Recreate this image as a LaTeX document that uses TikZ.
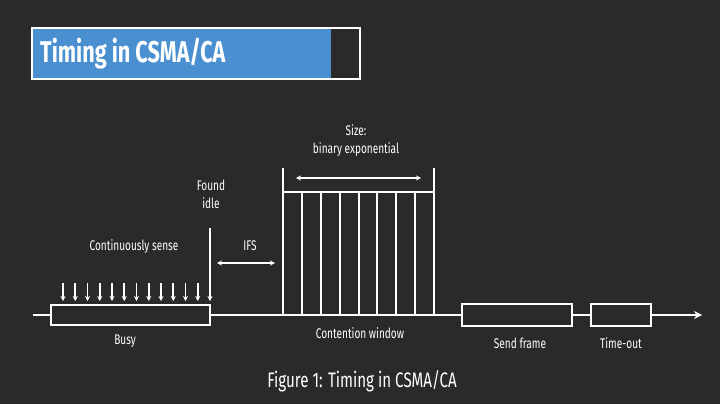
\documentclass[tikz,border=0pt]{standalone}
\usepackage{fontspec}
\setmainfont{Fira Sans}[FakeStretch=0.72]
\usetikzlibrary{arrows.meta}
\definecolor{bgdark}{HTML}{2B2A2A}
\definecolor{titleblue}{HTML}{4A90D0}

\begin{document}
\begin{tikzpicture}[
  x=1pt, y=-1pt,
  wire/.style={draw=white, line width=2pt},
  slot/.style={draw=white, line width=2pt, fill=bgdark},
  lbl/.style={text=white, font=\fontsize{14}{16}\selectfont, inner sep=0pt},
  sense/.style={draw=white, line width=1.6pt, -{Stealth[length=5pt,width=5pt]}},
  span/.style={draw=white, line width=1.2pt, {Stealth[length=5pt,width=5pt]}-{Stealth[length=5pt,width=5pt]}},
]

\fill [bgdark] (0,0) rectangle (720,404);
\useasboundingbox (0,0) rectangle (720,404);

% title
\fill [titleblue] (33,29) rectangle (331,78);
\draw [white, line width=2.5pt] (32,28) rectangle (360,79);
\node (title) [text=white, font=\fontsize{30}{32}\selectfont\bfseries, anchor=west, inner sep=0pt] at (40,54) {Timing in CSMA/CA};

% time axis
\coordinate (start) at (33,315);
\coordinate (stop) at (702,315);
\draw [wire, -{Stealth[length=8pt,width=8pt]}] (start) -- (stop);

% busy period
\draw [slot] (51,305) rectangle (210,325);
\node (busy) [lbl] at (125,341) {Busy};
\foreach \i in {0,...,11}
  \draw [sense] (63+12.25*\i,283) -- (63+12.25*\i,301);
\coordinate (idletop) at (210,228);
\coordinate (idlebot) at (210,301);
\draw [sense] (idletop) -- (idlebot);
\node (sense) [lbl] at (134,247) {Continuously sense};
\node (found) [lbl, align=center] at (211,194) {Found\\[2pt]idle};

% inter frame space
\coordinate (ifsl) at (217,263);
\coordinate (ifsr) at (275,263);
\draw [span] (ifsl) -- (ifsr);
\node (ifs) [lbl] at (250,246) {IFS};

% contention window
\draw [white, line width=2pt] (283,168) -- (283,315);
\draw [white, line width=2pt] (434,168) -- (434,315);
\draw [white, line width=2pt] (283,192) -- (434,192);
\foreach \i in {1,...,7}
  \draw [white, line width=2pt] (283+18.875*\i,192) -- (283+18.875*\i,315);
\coordinate (cwl) at (296,178);
\coordinate (cwr) at (421,178);
\draw [span] (cwl) -- (cwr);
\node (size) [lbl, align=center] at (356,141) {Size:\\[2pt]binary exponential};
\node (cw) [lbl] at (360,333) {Contention window};

% send frame and time-out
\draw [slot] (462,304) rectangle (572,326);
\node (send) [lbl] at (520,343) {Send frame};
\draw [slot] (591,304) rectangle (651,326);
\node (timeout) [lbl] at (621,343) {Time-out};

% caption
\node (caption) [text=white, font=\fontsize{21}{24}\selectfont, inner sep=0pt] at (362,381) {Figure 1: Timing in CSMA/CA};

\end{tikzpicture}
\end{document}
